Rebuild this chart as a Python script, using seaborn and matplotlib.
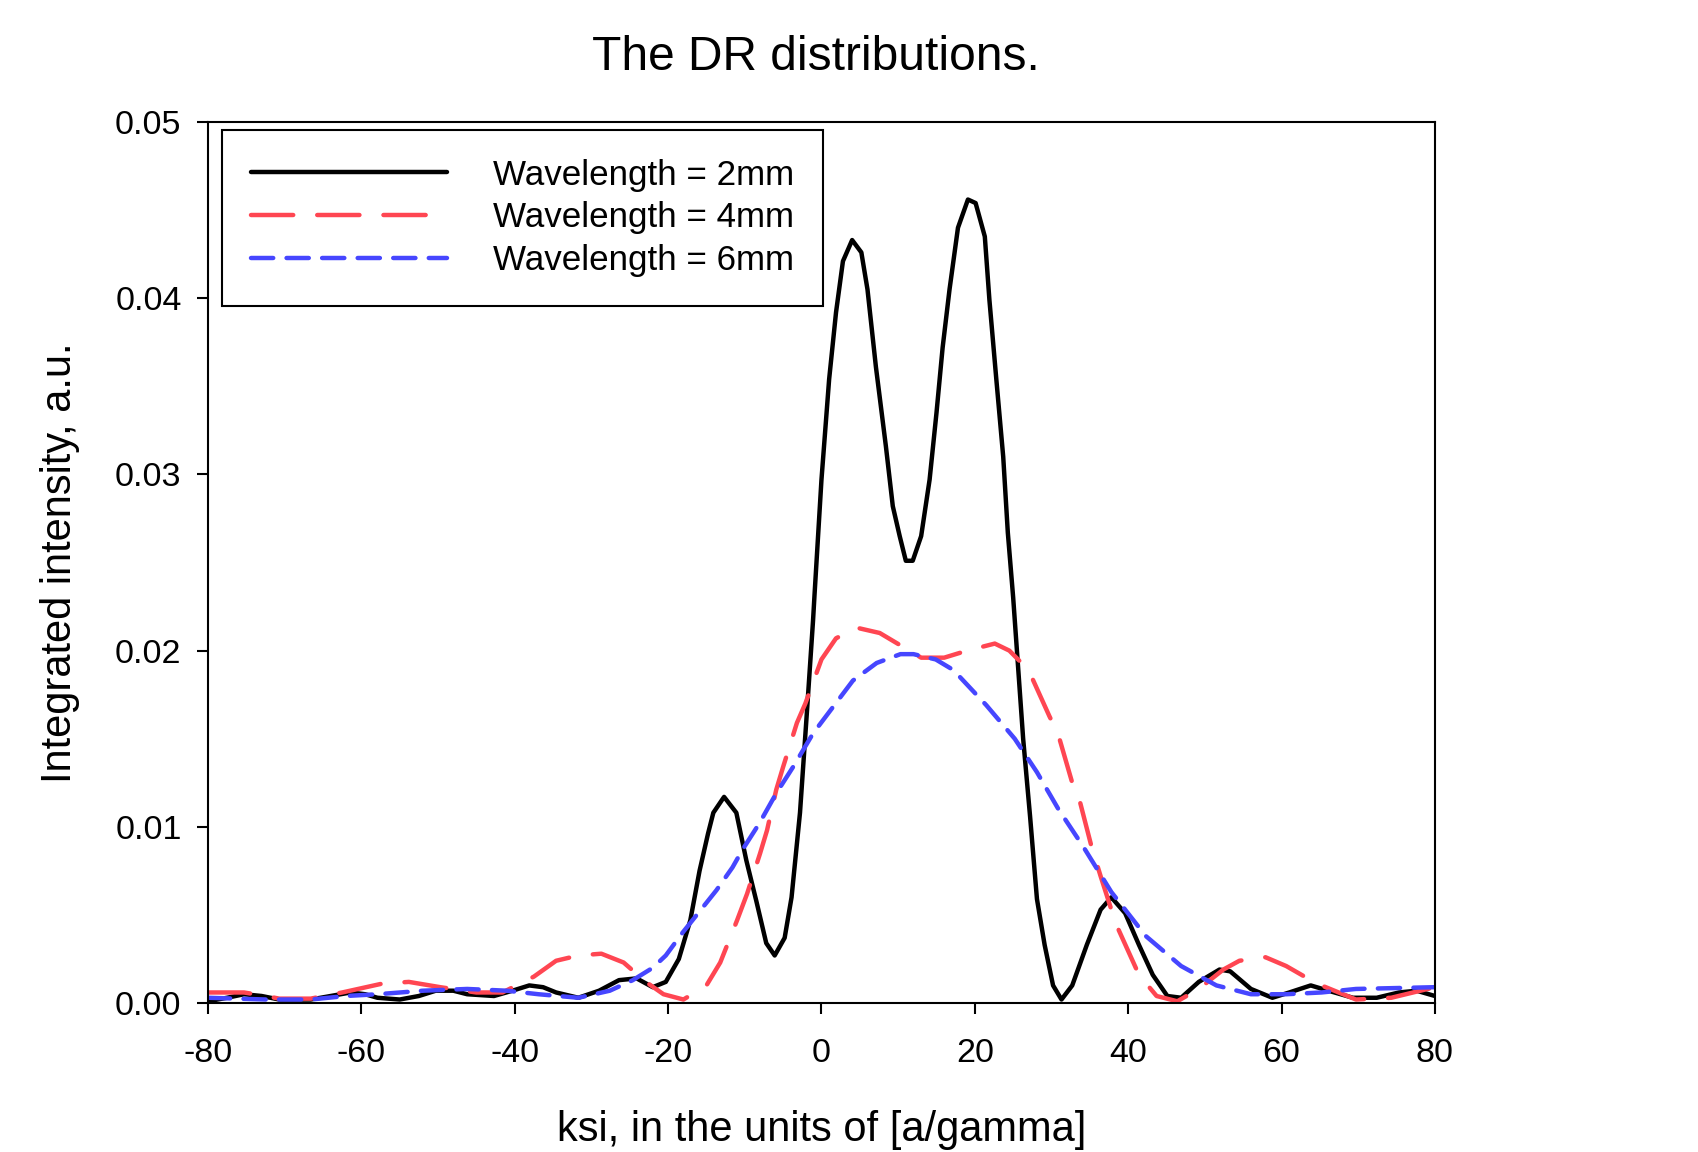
import numpy as np
import pandas as pd
import seaborn as sns
import matplotlib.pyplot as plt
from matplotlib.ticker import FormatStrFormatter, MultipleLocator

# Wavelength = 2mm
ksi_2mm = [-80, -77.5, -75.3, -73, -70.7, -68, -66.6, -64, -61.4, -59.5, -57.9, -55, -52.5,
           -50.3, -48, -46.2, -42.7, -40.3, -38.1, -36.3, -34.6, -31.7, -29, -26.4, -24.1, -22,
           -20.3, -18.6, -17.1, -15.9, -14.8, -14.1, -12.7, -11.1, -9.8, -8.5, -7.2, -6.1, -4.8,
           -3.9, -2.8, -1.9, -1.1, -0.9, 0, 1.0, 1.9, 2.8, 4.0, 5.2, 6.0, 7.1, 8.4, 9.3, 10.2,
           11.0, 11.9, 13.0, 14.1, 15.0, 15.8, 16.7, 17.8, 19.1, 20.1, 21.3, 21.9, 22.8, 23.7,
           24.3, 25.0, 26.3, 27.2, 28.1, 29.1, 30.2, 31.3, 32.7, 34.6, 36.4, 37.8, 39.6, 41.4,
           43.2, 45.1, 46.9, 49.2, 51.9, 53.3, 56, 58.8, 61, 63.8, 66.1, 69.3, 72.4, 75.3, 77.6, 80]
int_2mm = [0.0001, 0.0003, 0.0005, 0.0004, 0.0002, 0.0002, 0.0002, 0.0004, 0.0006, 0.0005,
           0.0003, 0.0002, 0.0004, 0.0007, 0.0007, 0.0005, 0.0004, 0.0007, 0.0010, 0.0009,
           0.0006, 0.0003, 0.0007, 0.0013, 0.0014, 0.0009, 0.0012, 0.0025, 0.0047, 0.0075,
           0.0096, 0.0108, 0.0117, 0.0108, 0.0081, 0.0058, 0.0034, 0.0027, 0.0037, 0.0060,
           0.0108, 0.0165, 0.0217, 0.0232, 0.0297, 0.0354, 0.0392, 0.0421, 0.0433, 0.0426,
           0.0405, 0.0361, 0.0316, 0.0282, 0.0265, 0.0251, 0.0251, 0.0265, 0.0297, 0.0335,
           0.0372, 0.0405, 0.0440, 0.0456, 0.0454, 0.0435, 0.0399, 0.0354, 0.0310, 0.0267,
           0.0230, 0.0150, 0.0106, 0.0059, 0.0033, 0.0010, 0.0002, 0.0010, 0.0033, 0.0053,
           0.0060, 0.0051, 0.0033, 0.0016, 0.0004, 0.0003, 0.0012, 0.0019, 0.0018, 0.0008,
           0.0003, 0.0006, 0.0010, 0.0007, 0.0003, 0.0003, 0.0006, 0.0007, 0.0004]

# Wavelength = 4mm
ksi_4mm = [-80, -75.3, -72.5, -70.7, -66.6, -62.5, -57.3, -53.8, -49.7, -45, -41.6, -37.5, -34.6,
           -31.7, -28.7, -25.8, -22.9, -20.6, -18, -15, -13.2, -11, -9.7, -8, -7.1, -5.9, -5,
           -3.2, -2.1, 0, 1.9, 4.6, 7.6, 10.3, 13, 16, 19, 22.6, 24.5, 27, 29.7, 30.9, 32.7,
           33.6, 35.2, 36.4, 37.8, 38.7, 41.4, 43.7, 46.4, 49.2, 52.4, 54.5, 57.9, 60.6, 63,
           65.2, 69.7, 74.3, 80]
int_4mm = [0.0006, 0.0006, 0.0004, 0.00025, 0.00025, 0.0006, 0.0011, 0.0012, 0.0009, 0.0006,
           0.0006, 0.0015, 0.0024, 0.0027, 0.0028, 0.0023, 0.0012, 0.0005, 0.0002, 0.0010,
           0.0023, 0.0047, 0.0062, 0.0085, 0.0098, 0.0121, 0.0134, 0.0159, 0.0170, 0.0195,
           0.0207, 0.0213, 0.0210, 0.0203, 0.0196, 0.0196, 0.0200, 0.0204, 0.0200, 0.0189,
           0.0163, 0.0152, 0.0125, 0.0116, 0.0089, 0.0072, 0.0053, 0.0042, 0.0016, 0.0004,
           0.0001, 0.0008, 0.0019, 0.0024, 0.0026, 0.0021, 0.0015, 0.0010, 0.0002, 0.0003, 0.0009]

# Wavelength = 6mm
ksi_6mm = [-80, -72.4, -66.6, -62, -57.9, -52, -46.2, -41, -36.9, -31.7, -27.6, -24.6, -22,
           -20.3, -18.1, -15.9, -13.7, -11.6, -10.3, -8.1, -5.9, -3.7, -1.1, 1.5, 4.1, 7.2,
           10.3, 12, 14.9, 17.2, 21.5, 25.2, 28.1, 30.9, 34.1, 37.8, 42.3, 46.9, 51.5, 56,
           60.6, 65.2, 69.7, 80]
int_6mm = [0.0003, 0.0002, 0.0002, 0.0004, 0.0005, 0.0007, 0.0008, 0.0007, 0.0005, 0.0003,
           0.0007, 0.0013, 0.0020, 0.0027, 0.0040, 0.0052, 0.0064, 0.0077, 0.0087, 0.0102,
           0.0119, 0.0134, 0.0153, 0.0168, 0.0183, 0.0193, 0.0198, 0.0198, 0.0195, 0.0189,
           0.0169, 0.0150, 0.0131, 0.0110, 0.0089, 0.0063, 0.0038, 0.0021, 0.0010, 0.0005,
           0.0005, 0.0006, 0.0008, 0.0009]

labels = ['Wavelength = 2mm', 'Wavelength = 4mm', 'Wavelength = 6mm']

df = pd.concat([
    pd.DataFrame({'ksi': ksi_2mm, 'intensity': int_2mm, 'series': labels[0]}),
    pd.DataFrame({'ksi': ksi_4mm, 'intensity': int_4mm, 'series': labels[1]}),
    pd.DataFrame({'ksi': ksi_6mm, 'intensity': int_6mm, 'series': labels[2]}),
])

sns.set_style('ticks')
plt.rcParams['font.family'] = ['Liberation Sans', 'DejaVu Sans']
plt.rcParams['axes.unicode_minus'] = False
plt.rcParams['text.color'] = 'black'
plt.rcParams['axes.labelcolor'] = 'black'

fig, ax = plt.subplots(figsize=(16.99, 11.52), dpi=100)
fig.subplots_adjust(left=0.1224, right=0.8446, top=0.8941, bottom=0.1293)

palette = {labels[0]: 'black', labels[1]: '#ff4652', labels[2]: '#4646ff'}
dashes = {labels[0]: '', labels[1]: (9.5, 5.4), labels[2]: (5.0, 3.0)}
ax = sns.lineplot(data=df, x='ksi', y='intensity', hue='series', style='series',
                  palette=palette, dashes=dashes, estimator=None, ax=ax)
for line in ax.get_lines():
    line.set_linewidth(3.2)
    line.set_dash_capstyle('round')
    line.set_solid_capstyle('round')
    line.set_solid_joinstyle('round')

ax.set(xlim=(-80, 80), ylim=(0, 0.05))
ax.xaxis.set_major_locator(MultipleLocator(20))
ax.yaxis.set_major_locator(MultipleLocator(0.01))
ax.yaxis.set_major_formatter(FormatStrFormatter('%.2f'))
ax.tick_params(axis='both', direction='out', length=8, width=1.5, labelsize=24.5,
               colors='black')
ax.tick_params(axis='x', pad=17)
ax.tick_params(axis='y', pad=11)
for sp in ax.spines.values():
    sp.set_visible(True)
    sp.set_linewidth(1.5)
    sp.set_color('black')

ax.set_xlabel('ksi, in the units of [a/gamma]', fontsize=30, labelpad=30)
ax.set_ylabel('Integrated intensity, a.u.', fontsize=30, labelpad=25)
fig.text(0.480, 1 - 57 / 1152, 'The DR distributions.', fontsize=34.5, ha='center', va='center')

handles, lbls = ax.get_legend_handles_labels()
for h in handles:
    h.set_linewidth(3.2)
    h.set_dash_capstyle('round')
leg = ax.legend(handles, lbls, loc='upper left', bbox_to_anchor=(0.0114, 0.991),
                borderaxespad=0, fontsize=25.2, handlelength=5.6, handletextpad=1.33,
                labelspacing=0.28, borderpad=0.82, fancybox=False, framealpha=1,
                edgecolor='black')
leg.get_frame().set_linewidth(1.5)

fig.savefig('out.png', dpi=100, facecolor='white')
